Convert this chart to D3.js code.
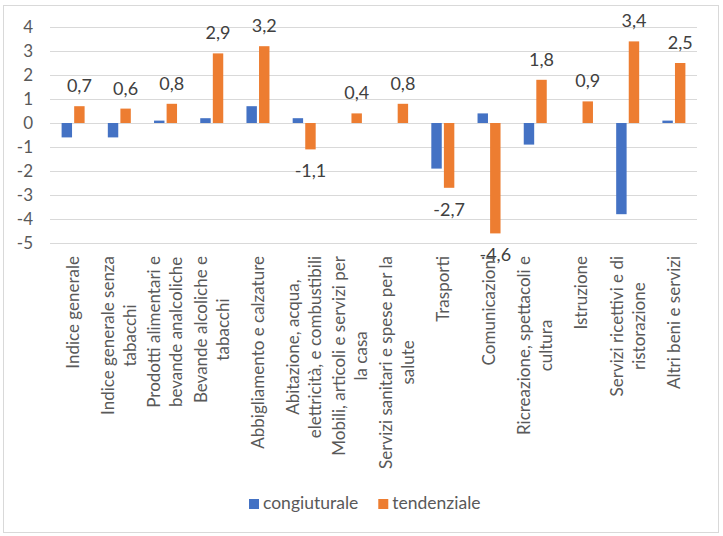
<!DOCTYPE html>
<html>
<head>
<meta charset="utf-8">
<script src="https://cdn.jsdelivr.net/npm/d3@7"></script>
<style>
  body { margin: 0; background: #fff; }
  text { font-family: Lato, "Open Sans", sans-serif; }
</style>
</head>
<body>
<div id="chart"></div>
<script>
// Categories (line breaks as in the original axis labels)
var categories = [
    "Indice generale",
    "Indice generale senza\ntabacchi",
    "Prodotti alimentari e\nbevande analcoliche",
    "Bevande alcoliche e\ntabacchi",
    "Abbigliamento e calzature",
    "Abitazione, acqua,\nelettricità, e combustibili",
    "Mobili, articoli e servizi per\nla casa",
    "Servizi sanitari e spese per la\nsalute",
    "Trasporti",
    "Comunicazioni",
    "Ricreazione, spettacoli e\ncultura",
    "Istruzione",
    "Servizi ricettivi e di\nristorazione",
    "Altri beni e servizi"
];
var seriesNames = ["congiuturale", "tendenziale"];
var congiunturale = [-0.6, -0.6, 0.1, 0.2, 0.7, 0.2, 0, 0, -1.9, 0.4, -0.9, 0, -3.8, 0.1];
var tendenziale = [0.7, 0.6, 0.8, 2.9, 3.2, -1.1, 0.4, 0.8, -2.7, -4.6, 1.8, 0.9, 3.4, 2.5];
var yTicks = [4, 3, 2, 1, 0, -1, -2, -3, -4, -5];
var colors = ["#4472C4", "#ED7D31"];

function createChart() {
    var width = 723, height = 536;
    var plot = { left: 50, right: 697, top: 27, bottom: 243 };
    var fs = 17;

    var svg = d3.select("#chart").append("svg")
        .attr("width", width)
        .attr("height", height);

    // outer border
    svg.append("rect")
        .attr("x", 3.5).attr("y", 5.5)
        .attr("width", 715).attr("height", 527)
        .attr("fill", "#fff")
        .attr("stroke", "#d9d9d9");

    var x0 = d3.scaleBand()
        .domain(d3.range(categories.length))
        .range([plot.left, plot.right]);

    var bw = x0.bandwidth();
    var x1 = d3.scaleBand()
        .domain([0, 1])
        .range([bw / 2 - 11.5, bw / 2 + 11.5])
        .paddingInner(0.17);

    var y = d3.scaleLinear()
        .domain([-5, 4])
        .range([plot.bottom, plot.top]);

    // gridlines
    svg.append("g").selectAll("line")
        .data(yTicks)
        .enter().append("line")
        .attr("x1", plot.left).attr("x2", plot.right)
        .attr("y1", function (d) { return y(d) + 0.5; })
        .attr("y2", function (d) { return y(d) + 0.5; })
        .attr("stroke", "#d9d9d9");

    // y tick labels
    svg.append("g").selectAll("text")
        .data(yTicks)
        .enter().append("text")
        .attr("x", 33)
        .attr("y", function (d) { return y(d); })
        .attr("dy", "0.35em")
        .attr("text-anchor", "end")
        .attr("font-size", fs)
        .attr("fill", "#595959")
        .text(function (d) { return d; });

    var series = [congiunturale, tendenziale];

    series.forEach(function (vals, s) {
        svg.append("g").selectAll("rect")
            .data(vals)
            .enter().append("rect")
            .attr("x", function (d, i) { return x0(i) + x1(s); })
            .attr("width", x1.bandwidth())
            .attr("y", function (d) { return y(Math.max(0, d)); })
            .attr("height", function (d) { return Math.abs(y(d) - y(0)); })
            .attr("fill", colors[s]);
    });

    // data labels for tendenziale
    svg.append("g").selectAll("text")
        .data(tendenziale)
        .enter().append("text")
        .attr("x", function (d, i) { return x0(i) + x1(1) + x1.bandwidth() / 2; })
        .attr("y", function (d) { return d >= 0 ? y(d) - 14 : y(d) + 28; })
        .attr("text-anchor", "middle")
        .attr("font-size", 18)
        .attr("fill", "#404040")
        .text(function (d) { return String(d).replace(".", ","); });

    // category labels (rotated, lines centered, block ends at the axis)
    var lh = 22;
    var labelTop = 256;
    var gl = svg.append("g");
    categories.forEach(function (c, i) {
        var lines = c.split("\n");
        var g = gl.append("g");
        var texts = lines.map(function (l) {
            return g.append("text")
                .attr("font-size", fs)
                .attr("fill", "#595959")
                .attr("text-anchor", "middle")
                .text(l);
        });
        var maxW = d3.max(texts, function (t) { return t.node().getComputedTextLength(); });
        var cx = x0(i) + bw / 2;
        var cy = labelTop + maxW / 2;
        texts.forEach(function (t, k) {
            var lx = cx + (k - (lines.length - 1) / 2) * lh + fs * 0.35;
            t.attr("transform", "translate(" + lx + "," + cy + ") rotate(-90)");
        });
    });

    // legend
    var legend = svg.append("g");
    var lx = 249;
    seriesNames.forEach(function (name, s) {
        legend.append("rect")
            .attr("x", lx).attr("y", 499)
            .attr("width", 10).attr("height", 10)
            .attr("fill", colors[s]);
        var t = legend.append("text")
            .attr("x", lx + 14).attr("y", 509)
            .attr("font-size", 17.5)
            .attr("fill", "#595959")
            .text(name);
        lx += 14 + t.node().getComputedTextLength() + 20;
    });
}

createChart();
</script>
</body>
</html>
